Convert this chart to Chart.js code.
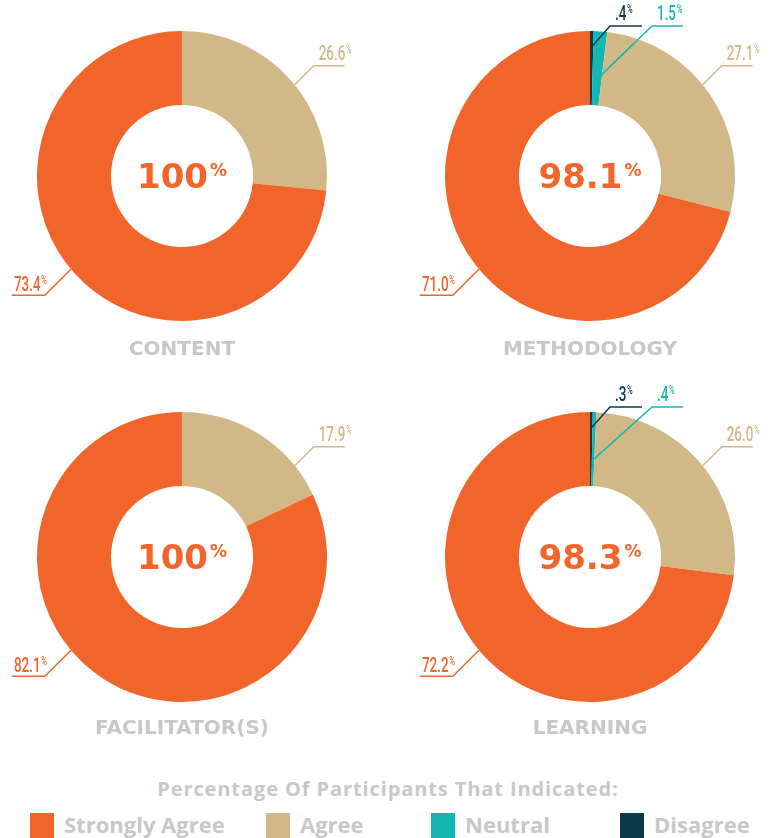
<!DOCTYPE html>
<html>
<head>
<meta charset="utf-8">
<script src="https://cdn.jsdelivr.net/npm/chart.js@4"></script>
<style>
  body { margin: 0; background: #fff; }
  #page { position: relative; width: 776px; height: 838px; overflow: hidden; }
  canvas { position: absolute; }
  .title {
    position: absolute; width: 388px; text-align: center;
    font: bold 20px "DejaVu Sans", sans-serif; line-height: 20px; color: #c8c8c8;
  }
  #legendTitle {
    position: absolute; left: 0; width: 776px; top: 779px; text-align: center;
    font: 700 20px "Open Sans", sans-serif; line-height: 20px; color: #c8c8c8;
    letter-spacing: 0.9px;
  }
  .swatch { position: absolute; top: 813px; width: 24px; height: 25px; }
  .item {
    position: absolute; top: 813px; white-space: nowrap;
    font: 700 22px "Open Sans", sans-serif; line-height: 22px; color: #c8c8c8;
  }
</style>
</head>
<body>
<div id="page">
  <canvas id="c0" width="388" height="370" style="left:0;top:0"></canvas>
  <canvas id="c1" width="388" height="370" style="left:388px;top:0"></canvas>
  <canvas id="c2" width="388" height="370" style="left:0;top:381px"></canvas>
  <canvas id="c3" width="388" height="370" style="left:388px;top:381px"></canvas>
  <div id="legendTitle">Percentage Of Participants That Indicated:</div>
</div>
<script>
const categories = ["Strongly Agree", "Agree", "Neutral", "Disagree"];
const colors = ["#f2652a", "#d3b887", "#13b6b0", "#0c3a48"];
const chartTitles = ["CONTENT", "METHODOLOGY", "FACILITATOR(S)", "LEARNING"];
const centerValues = ["100", "98.1", "100", "98.3"];

const contentValues = [73.4, 26.6, 0, 0];
const methodologyValues = [71.0, 27.1, 1.5, 0.4];
const facilitatorValues = [82.1, 17.9, 0, 0];
const learningValues = [72.2, 26.0, 0.4, 0.3];

const allValues = [contentValues, methodologyValues, facilitatorValues, learningValues];

// where each category's leader line goes
const leaderStyle = {
  "Strongly Agree": { angle: 230, r: 1, elbow: [-26, 26], len: -33 },
  "Agree": { angle: 51, r: 1, elbow: [19, -19], len: 31 },
  "Neutral": { angle: null, r: 0.67, top: 62, len: 31 },
  "Disagree": { angle: null, r: 0.89, top: 20, len: 32 },
};

function fmt(v) {
  let s = v.toFixed(1);
  if (s.startsWith("0.")) s = s.slice(1);
  return s;
}

const leaderLabels = {
  id: "leaderLabels",
  afterDatasetsDraw(chart) {
    const ctx = chart.ctx;
    const meta = chart.getDatasetMeta(0);
    const labels = chart.data.labels;
    const data = chart.data.datasets[0].data;
    meta.data.forEach(function (arc, i) {
      const v = data[i];
      if (!v) return;
      const st = leaderStyle[labels[i]];
      const p = arc.getProps(["x", "y", "startAngle", "endAngle", "outerRadius"], true);
      const R = p.outerRadius;
      let a;
      if (st.angle !== null) a = (st.angle - 90) * Math.PI / 180;
      else a = (p.startAngle + p.endAngle) / 2;
      const ax = p.x + Math.cos(a) * R * st.r;
      const ay = p.y + Math.sin(a) * R * st.r;
      let ex, ey;
      if (st.angle !== null) { ex = ax + st.elbow[0]; ey = ay + st.elbow[1]; }
      else { ex = p.x + st.top; ey = p.y - R - 5; }
      const endX = ex + st.len;
      const col = arc.options.backgroundColor;

      ctx.save();
      ctx.strokeStyle = col;
      ctx.lineWidth = 1.5;
      ctx.beginPath();
      ctx.moveTo(ax, ay);
      ctx.lineTo(ex, ey);
      ctx.lineTo(endX, ey);
      ctx.stroke();

      let tx, base;
      if (st.len < 0) { tx = endX + 2; base = ey - 4; }
      else { tx = ex + 5; base = ey - 6; }
      ctx.translate(tx, base);
      ctx.scale(0.64, 1);
      ctx.fillStyle = col;
      ctx.textBaseline = "alphabetic";
      ctx.font = "500 21px Roboto";
      const num = fmt(v);
      ctx.fillText(num, 0, 0);
      const w = ctx.measureText(num).width;
      ctx.font = "500 12px Roboto";
      ctx.fillText("%", w + 1, -7);
      ctx.restore();
    });
  },
};

const centerText = {
  id: "centerText",
  afterDraw(chart) {
    const arc = chart.getDatasetMeta(0).data[0];
    if (!arc) return;
    const ctx = chart.ctx;
    const txt = chart.options.plugins.centerText.text;
    ctx.save();
    ctx.fillStyle = "#f2652a";
    ctx.textBaseline = "alphabetic";
    ctx.font = "bold 34px 'DejaVu Sans'";
    const w1 = ctx.measureText(txt).width;
    ctx.font = "bold 17px 'DejaVu Sans'";
    const w2 = ctx.measureText("%").width;
    const x0 = arc.x - (w1 + w2 + 2) / 2;
    ctx.font = "bold 34px 'DejaVu Sans'";
    ctx.fillText(txt, x0, arc.y + 12);
    ctx.font = "bold 17px 'DejaVu Sans'";
    ctx.fillText("%", x0 + w1 + 2, arc.y);
    ctx.restore();
  },
};

const paddings = [
  { left: 37, top: 31, right: 61, bottom: 49 },
  { left: 57, top: 31, right: 41, bottom: 49 },
  { left: 37, top: 31, right: 61, bottom: 49 },
  { left: 57, top: 31, right: 41, bottom: 49 },
];

allValues.forEach(function (vals, k) {
  // clockwise from the top: Disagree, Neutral, Agree, Strongly Agree
  const order = [3, 2, 1, 0];
  new Chart(document.getElementById("c" + k), {
    type: "doughnut",
    data: {
      labels: order.map((i) => categories[i]),
      datasets: [
        {
          data: order.map((i) => vals[i]),
          backgroundColor: order.map((i) => colors[i]),
          borderWidth: 0,
        },
      ],
    },
    options: {
      responsive: false,
      animation: false,
      cutout: "49%",
      layout: { padding: paddings[k] },
      plugins: {
        legend: { display: false },
        tooltip: { enabled: false },
        centerText: { text: centerValues[k] },
      },
    },
    plugins: [leaderLabels, centerText],
  });
});

// chart titles
const page = document.getElementById("page");
const titlePos = [[0, 338], [388, 338], [0, 717], [388, 717]];
chartTitles.forEach(function (t, k) {
  const d = document.createElement("div");
  d.className = "title";
  d.style.left = (titlePos[k][0] + (k % 2 ? 8 : -12)) + "px";
  d.style.top = titlePos[k][1] + "px";
  d.textContent = t;
  page.appendChild(d);
});

// legend
const swatchX = [30, 266, 431, 620];
categories.forEach(function (c, i) {
  const s = document.createElement("div");
  s.className = "swatch";
  s.style.left = swatchX[i] + "px";
  s.style.background = colors[i];
  page.appendChild(s);
  const t = document.createElement("div");
  t.className = "item";
  t.style.left = (swatchX[i] + 34) + "px";
  t.textContent = c;
  page.appendChild(t);
});
</script>
</body>
</html>
